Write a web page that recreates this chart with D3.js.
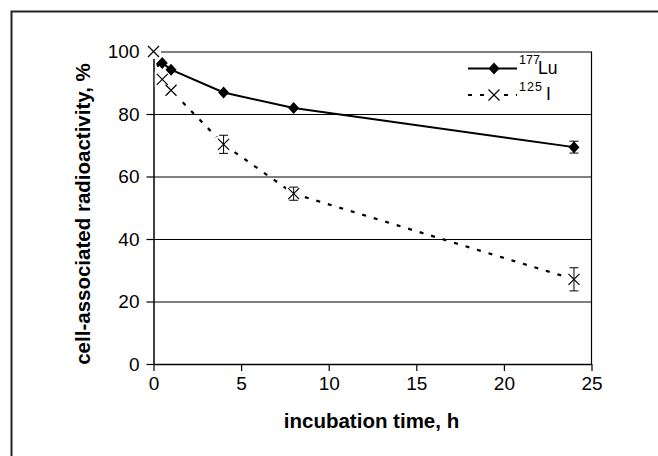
<!DOCTYPE html>
<html>
<head>
<meta charset="utf-8">
<script src="https://cdn.jsdelivr.net/npm/d3@7"></script>
<style>
  body { margin: 0; background: #fff; }
  svg { display: block; font-family: "Liberation Sans", Arial, sans-serif; }
</style>
</head>
<body>
<svg id="chart" width="658" height="456"></svg>
<script>
// values
const xTicks = [0, 5, 10, 15, 20, 25];
const yTicks = [0, 20, 40, 60, 80, 100];

const timeLu = [0.5, 1, 4, 8, 24];
const valLu  = [96.3, 94.2, 86.9, 81.9, 69.4];
const errLu  = [0, 0, 0, 0, 1.9];

const timeI = [0, 0.5, 1, 4, 8, 24];
const valI  = [100, 91.1, 87.6, 70.3, 54.5, 27.1];
const errI  = [0, 0, 0, 2.9, 2.1, 3.7];

const legendSup = ['177', '125'];
const legendSym = ['Lu', 'I'];

const xTitle = 'incubation time, h';
const yTitle = 'cell-associated radioactivity, %';

const svg = d3.select('#chart');

const x = d3.scaleLinear().domain([0, 25]).range([153.5, 591.5]);
const y = d3.scaleLinear().domain([0, 100]).range([364, 51.5]);

const diamond = 'M0,-6L5.5,0L0,6L-5.5,0Z';
const cross = 'M-5.5,-5.5L5.5,5.5M5.5,-5.5L-5.5,5.5';

// outer frame
svg.append('rect')
  .attr('x', 11.5).attr('y', 11.5)
  .attr('width', 700).attr('height', 500)
  .attr('fill', 'none').attr('stroke', '#222').attr('stroke-width', 2);

// gridlines
svg.append('g')
  .attr('transform', `translate(${x(0)},0)`)
  .call(d3.axisLeft(y).tickValues(yTicks.slice(1)).tickSize(-(x(25) - x(0))).tickFormat(''))
  .call(ax => {
    ax.select('.domain').remove();
    ax.selectAll('.tick line').attr('stroke', '#000').attr('stroke-width', 1);
  });

// right border of plot area
svg.append('line')
  .attr('x1', x(25)).attr('x2', x(25))
  .attr('y1', y(100)).attr('y2', y(0))
  .attr('stroke', '#000').attr('stroke-width', 1.2);

// y axis
svg.append('g')
  .attr('transform', `translate(${x(0)},0)`)
  .call(d3.axisLeft(y).tickValues(yTicks).tickSize(7).tickSizeOuter(0).tickPadding(7))
  .call(ax => {
    ax.select('.domain').attr('stroke', '#000').attr('stroke-width', 1.5);
    ax.selectAll('.tick line').attr('stroke', '#000').attr('stroke-width', 1.2);
    ax.selectAll('.tick text')
      .attr('fill', '#000')
      .style('font-size', '19px')
      .style('font-family', '"Liberation Sans", Arial, sans-serif');
  });

// x axis
svg.append('g')
  .attr('transform', `translate(0,${y(0)})`)
  .call(d3.axisBottom(x).tickValues(xTicks).tickSize(7).tickSizeOuter(0).tickPadding(6))
  .call(ax => {
    ax.select('.domain').attr('stroke', '#000').attr('stroke-width', 1.5);
    ax.selectAll('.tick line').attr('stroke', '#000').attr('stroke-width', 1.2);
    ax.selectAll('.tick text')
      .attr('fill', '#000')
      .style('font-size', '19px')
      .style('font-family', '"Liberation Sans", Arial, sans-serif');
  });

// axis titles
svg.append('text')
  .attr('x', (x(0) + x(25)) / 2 - 1).attr('y', 428)
  .attr('text-anchor', 'middle')
  .style('font-size', '20.5px').style('font-weight', 'bold')
  .text(xTitle);

svg.append('text')
  .attr('transform', 'translate(90,214) rotate(-90)')
  .attr('text-anchor', 'middle')
  .style('font-size', '20.5px').style('font-weight', 'bold')
  .text(yTitle);

const lu = timeLu.map((t, i) => ({ t, v: valLu[i], e: errLu[i] }));
const io = timeI.map((t, i) => ({ t, v: valI[i], e: errI[i] }));

const line = d3.line().x(d => x(d.t)).y(d => y(d.v));

svg.append('path')
  .datum(lu)
  .attr('d', line)
  .attr('fill', 'none').attr('stroke', '#000').attr('stroke-width', 2);

svg.append('path')
  .datum(io)
  .attr('d', line)
  .attr('fill', 'none').attr('stroke', '#000').attr('stroke-width', 2.2)
  .attr('stroke-dasharray', '4,8');

function errorBars(data) {
  const g = svg.append('g').attr('stroke', '#000').attr('stroke-width', 1);
  data.filter(d => d.e > 0).forEach(d => {
    const cx = x(d.t);
    g.append('line').attr('x1', cx).attr('x2', cx).attr('y1', y(d.v + d.e)).attr('y2', y(d.v - d.e));
    g.append('line').attr('x1', cx - 4.5).attr('x2', cx + 4.5).attr('y1', y(d.v + d.e)).attr('y2', y(d.v + d.e));
    g.append('line').attr('x1', cx - 4.5).attr('x2', cx + 4.5).attr('y1', y(d.v - d.e)).attr('y2', y(d.v - d.e));
  });
}

// 125I markers: white box behind each cross
svg.append('g').selectAll('rect')
  .data(io)
  .join('rect')
    .attr('x', d => x(d.t) - 7.5).attr('y', d => y(d.v) - 7.5)
    .attr('width', 15).attr('height', 15)
    .attr('fill', '#fff');

errorBars(io);

svg.append('g').selectAll('path')
  .data(io)
  .join('path')
    .attr('transform', d => `translate(${x(d.t)},${y(d.v)})`)
    .attr('d', cross)
    .attr('fill', 'none').attr('stroke', '#000').attr('stroke-width', 1.2);

errorBars(lu);

svg.append('g').selectAll('path')
  .data(lu)
  .join('path')
    .attr('transform', d => `translate(${x(d.t)},${y(d.v)})`)
    .attr('d', diamond)
    .attr('fill', '#000');

// legend
const lg = svg.append('g');
const rows = [68.5, 95];

lg.append('line')
  .attr('x1', 468).attr('x2', 517).attr('y1', rows[0]).attr('y2', rows[0])
  .attr('stroke', '#000').attr('stroke-width', 2);
lg.append('path')
  .attr('transform', `translate(494,${rows[0]})`)
  .attr('d', diamond).attr('fill', '#000');

lg.append('line')
  .attr('x1', 468).attr('x2', 517).attr('y1', rows[1]).attr('y2', rows[1])
  .attr('stroke', '#000').attr('stroke-width', 2.2).attr('stroke-dasharray', '4,8');
lg.append('rect')
  .attr('x', 494 - 6).attr('y', rows[1] - 6).attr('width', 12).attr('height', 12)
  .attr('fill', '#fff');
lg.append('path')
  .attr('transform', `translate(494,${rows[1]})`)
  .attr('d', cross).attr('fill', 'none').attr('stroke', '#000').attr('stroke-width', 1.2);

legendSup.forEach((s, i) => {
  const base = rows[i] + 5;
  lg.append('text')
    .attr('x', 519).attr('y', base - 9.5)
    .style('font-size', '12.5px')
    .attr('letter-spacing', i === 1 ? '1px' : '0px')
    .text(s);
  lg.append('text')
    .attr('x', i === 1 ? 546 : 538).attr('y', base)
    .style('font-size', '17.5px')
    .text(legendSym[i]);
});
</script>
</body>
</html>
